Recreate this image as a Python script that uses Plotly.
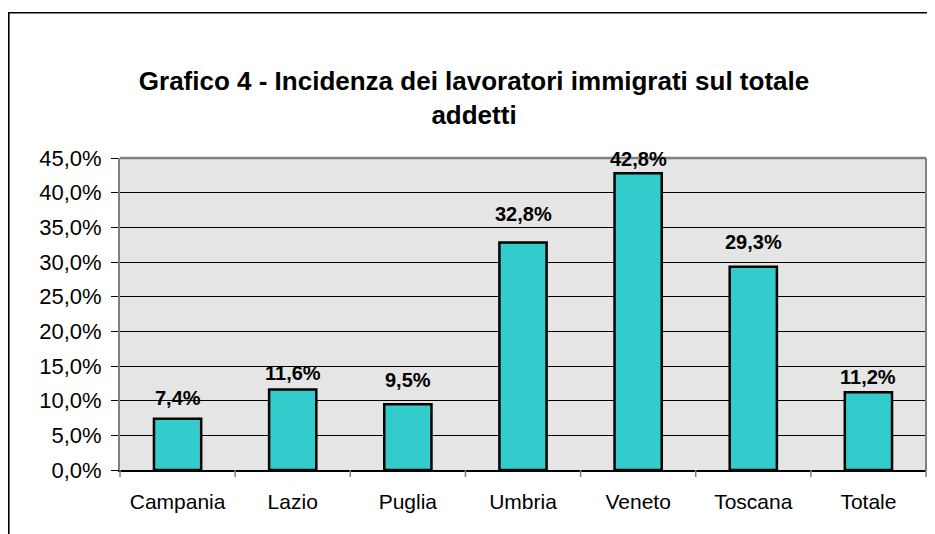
import plotly.graph_objects as go

categories = ["Campania", "Lazio", "Puglia", "Umbria", "Veneto", "Toscana", "Totale"]
values = [0.074, 0.116, 0.095, 0.328, 0.428, 0.293, 0.112]
labels = ["7,4%", "11,6%", "9,5%", "32,8%", "42,8%", "29,3%", "11,2%"]
title = "Grafico 4 - Incidenza dei lavoratori immigrati sul totale<br>addetti"

# label offsets above bar tops (px), as placed in the original
label_shift = [8, 4, 11, 16, 1, 12, 2]

FONT = "Liberation Sans, Arial, sans-serif"
W, H = 927, 526           # page body has an 8px margin
L, R, T, B = 112, 9, 150, 64
pw, ph = W - L - R, H - T - B

fig = go.Figure(go.Bar(
    x=categories, y=values,
    marker=dict(color="#33CCCC", line=dict(color="black", width=2.5)),
    width=0.41,
))

for c, v, t, s in zip(categories, values, labels, label_shift):
    fig.add_annotation(x=c, y=v, text="<b>" + t + "</b>", showarrow=False,
                       xanchor="center", yanchor="bottom", yshift=s,
                       font=dict(family=FONT, size=20, color="black"))

fig.update_layout(
    width=W, height=H,
    margin=dict(l=L, r=R, t=T, b=B, autoexpand=False),
    paper_bgcolor="white", plot_bgcolor="#e5e5e5",
    separators=",.",
    font=dict(family=FONT, color="black"),
    title=dict(text="<b>" + title + "</b>", x=466 / W, xanchor="center",
               y=1 - 82 / H, yanchor="middle",
               font=dict(size=26, color="black")),
    showlegend=False,
)
fig.update_yaxes(range=[0, 0.45], dtick=0.05, tickformat=".1%",
                 showgrid=True, gridcolor="black", gridwidth=1,
                 showline=True, linecolor="#808080", linewidth=2,
                 ticks="outside", ticklen=7, tickcolor="black",
                 ticklabelstandoff=5,
                 tickfont=dict(size=22), zeroline=False)
fig.update_xaxes(showline=True, linecolor="black", linewidth=1.5,
                 ticks="", tickfont=dict(size=21), ticklabelstandoff=12)

# category boundary ticks on x axis
for i in range(len(categories) + 1):
    xp = i / len(categories)
    fig.add_shape(type="line", xref="paper", yref="paper", x0=xp, x1=xp,
                  y0=0, y1=-7 / ph, line=dict(color="#808080", width=1.5))

# plot border top and right (gray)
fig.add_shape(type="line", xref="paper", yref="paper", x0=0, x1=1, y0=1, y1=1,
              line=dict(color="#808080", width=2.5))
fig.add_shape(type="line", xref="paper", yref="paper", x0=1, x1=1, y0=0, y1=1,
              line=dict(color="#808080", width=2))

# outer chart frame
fig.add_shape(type="rect", xref="paper", yref="paper",
              x0=(0.8 - L) / pw, x1=1 + (R + 20) / pw,
              y0=-(B + 20) / ph, y1=1 + (T - 4.8) / ph,
              line=dict(color="black", width=1.6), fillcolor="rgba(0,0,0,0)", layer="below")

fig.write_html("out.html")
